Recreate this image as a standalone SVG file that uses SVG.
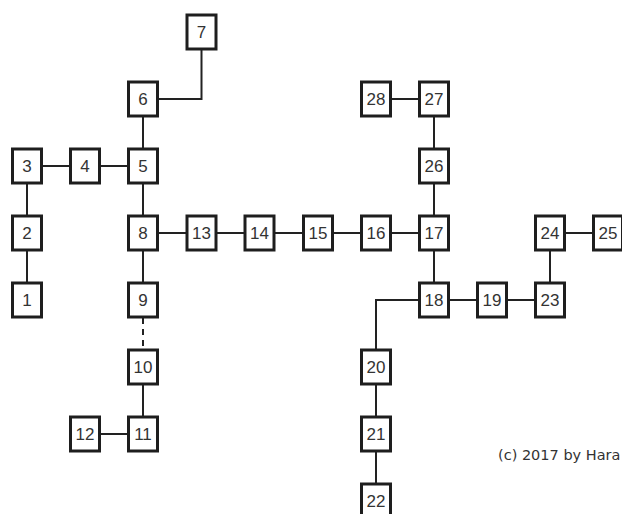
<svg xmlns="http://www.w3.org/2000/svg" width="622" height="514" viewBox="0 0 622 514">
<style>
.c{stroke:#222;stroke-width:2;fill:none}
.d{stroke-dasharray:6 5}
.n rect{fill:#fff;stroke:#1e1e1e;stroke-width:3}
.n text{font-family:"Liberation Sans",Arial,sans-serif;font-size:17px;fill:#333;text-anchor:middle}
.cp{font-family:"DejaVu Sans",Verdana,sans-serif;font-size:14.5px;fill:#333}
</style>
<rect width="622" height="514" fill="#fff"/>
<g id="connectors">
<path class="c" d="M27 166H143"/>
<path class="c" d="M27 166V300"/>
<path class="c" d="M143 99V300"/>
<path class="c" d="M143 367V434"/>
<path class="c" d="M143 99H201.5V32"/>
<path class="c" d="M143 233H434"/>
<path class="c d" d="M143 318V349"/>
<path class="c" d="M85 434H143"/>
<path class="c" d="M376 99H434V300H550V233H608"/>
<path class="c" d="M434 300H376V500"/>
</g>
<g id="n1" class="n"><rect x="12.5" y="283" width="29" height="34"/><text x="27" y="306">1</text></g>
<g id="n2" class="n"><rect x="12.5" y="216" width="29" height="34"/><text x="27" y="239">2</text></g>
<g id="n3" class="n"><rect x="12.5" y="149" width="29" height="34"/><text x="27" y="172">3</text></g>
<g id="n4" class="n"><rect x="70.5" y="149" width="29" height="34"/><text x="85" y="172">4</text></g>
<g id="n5" class="n"><rect x="128.5" y="149" width="29" height="34"/><text x="143" y="172">5</text></g>
<g id="n6" class="n"><rect x="128.5" y="82" width="29" height="34"/><text x="143" y="105">6</text></g>
<g id="n7" class="n"><rect x="187" y="15" width="29" height="34"/><text x="201.5" y="38">7</text></g>
<g id="n8" class="n"><rect x="128.5" y="216" width="29" height="34"/><text x="143" y="239">8</text></g>
<g id="n9" class="n"><rect x="128.5" y="283" width="29" height="34"/><text x="143" y="306">9</text></g>
<g id="n10" class="n"><rect x="128.5" y="350" width="29" height="34"/><text x="143" y="373">10</text></g>
<g id="n11" class="n"><rect x="128.5" y="417" width="29" height="34"/><text x="143" y="440">11</text></g>
<g id="n12" class="n"><rect x="70.5" y="417" width="29" height="34"/><text x="85" y="440">12</text></g>
<g id="n13" class="n"><rect x="187" y="216" width="29" height="34"/><text x="201.5" y="239">13</text></g>
<g id="n14" class="n"><rect x="245" y="216" width="29" height="34"/><text x="259.5" y="239">14</text></g>
<g id="n15" class="n"><rect x="303.5" y="216" width="29" height="34"/><text x="318" y="239">15</text></g>
<g id="n16" class="n"><rect x="361.5" y="216" width="29" height="34"/><text x="376" y="239">16</text></g>
<g id="n17" class="n"><rect x="419.5" y="216" width="29" height="34"/><text x="434" y="239">17</text></g>
<g id="n18" class="n"><rect x="419.5" y="283" width="29" height="34"/><text x="434" y="306">18</text></g>
<g id="n19" class="n"><rect x="477.5" y="283" width="29" height="34"/><text x="492" y="306">19</text></g>
<g id="n20" class="n"><rect x="361.5" y="350" width="29" height="34"/><text x="376" y="373">20</text></g>
<g id="n21" class="n"><rect x="361.5" y="417" width="29" height="34"/><text x="376" y="440">21</text></g>
<g id="n22" class="n"><rect x="361.5" y="484" width="29" height="34"/><text x="376" y="507">22</text></g>
<g id="n23" class="n"><rect x="535.5" y="283" width="29" height="34"/><text x="550" y="306">23</text></g>
<g id="n24" class="n"><rect x="535.5" y="216" width="29" height="34"/><text x="550" y="239">24</text></g>
<g id="n25" class="n"><rect x="593.5" y="216" width="29" height="34"/><text x="608" y="239">25</text></g>
<g id="n26" class="n"><rect x="419.5" y="149" width="29" height="34"/><text x="434" y="172">26</text></g>
<g id="n27" class="n"><rect x="419.5" y="82" width="29" height="34"/><text x="434" y="105">27</text></g>
<g id="n28" class="n"><rect x="361.5" y="82" width="29" height="34"/><text x="376" y="105">28</text></g>
<text class="cp" x="498" y="460">(c) 2017 by Hara</text>
</svg>
